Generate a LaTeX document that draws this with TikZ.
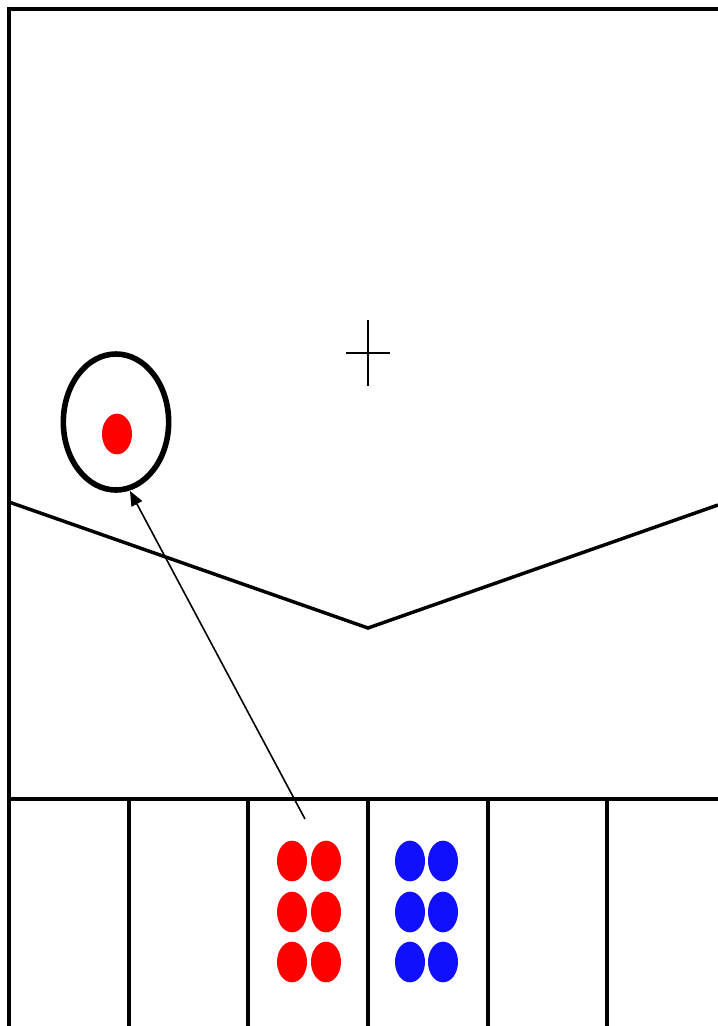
\documentclass[tikz,border=0pt]{standalone}
\usepackage{tikz}
\usetikzlibrary{arrows.meta,shapes.geometric}
\definecolor{tokenred}{HTML}{FF0000}
\definecolor{tokenblue}{HTML}{1010FF}
\tikzset{
  wall/.style={line width=3.7pt},
  rim/.style={line width=2.6pt},
  token/.style={ellipse, inner sep=0pt, minimum width=22.5pt, minimum height=30.5pt},
}

\begin{document}
\begin{tikzpicture}[x=0.75pt, y=-0.75pt, >={Triangle[length=11pt, width=9pt]}]
        \useasboundingbox (0,0) rectangle (718,1026);
        % frame and bins
        \draw[wall] (718,9) -- (9,9) -- (9,1026);
        \draw[wall] (9,799) -- (718,799);
        \foreach \x in {129,248,368,488,607}
            \draw[wall] (\x,799) -- (\x,1026);
        % slope
        \draw[rim] (9,502) -- (368,628) -- (718,505);
        % centre mark
        \draw[line width=1.8pt] (368,320) -- (368,386);
        \draw[line width=1.8pt] (346,353) -- (390,353);
        % target
        \node[ellipse, draw, line width=4.2pt, inner sep=0pt, minimum width=79pt, minimum height=102pt] (ring) at (116,422) {};
        \node[token, fill=tokenred] (ball) at (117,434) {};
        % tokens in bins
        \foreach \y [count=\i] in {861,912,962} {
            \node[token, fill=tokenred]  (r\i a) at (292,\y) {};
            \node[token, fill=tokenred]  (r\i b) at (326,\y) {};
            \node[token, fill=tokenblue] (b\i a) at (410,\y) {};
            \node[token, fill=tokenblue] (b\i b) at (443,\y) {};
        }
        \coordinate (launch) at (305,819);
        \coordinate (hit) at (130,491);
        \draw[->, line width=1.2pt] (launch) -- (hit);
    \end{tikzpicture}
\end{document}
